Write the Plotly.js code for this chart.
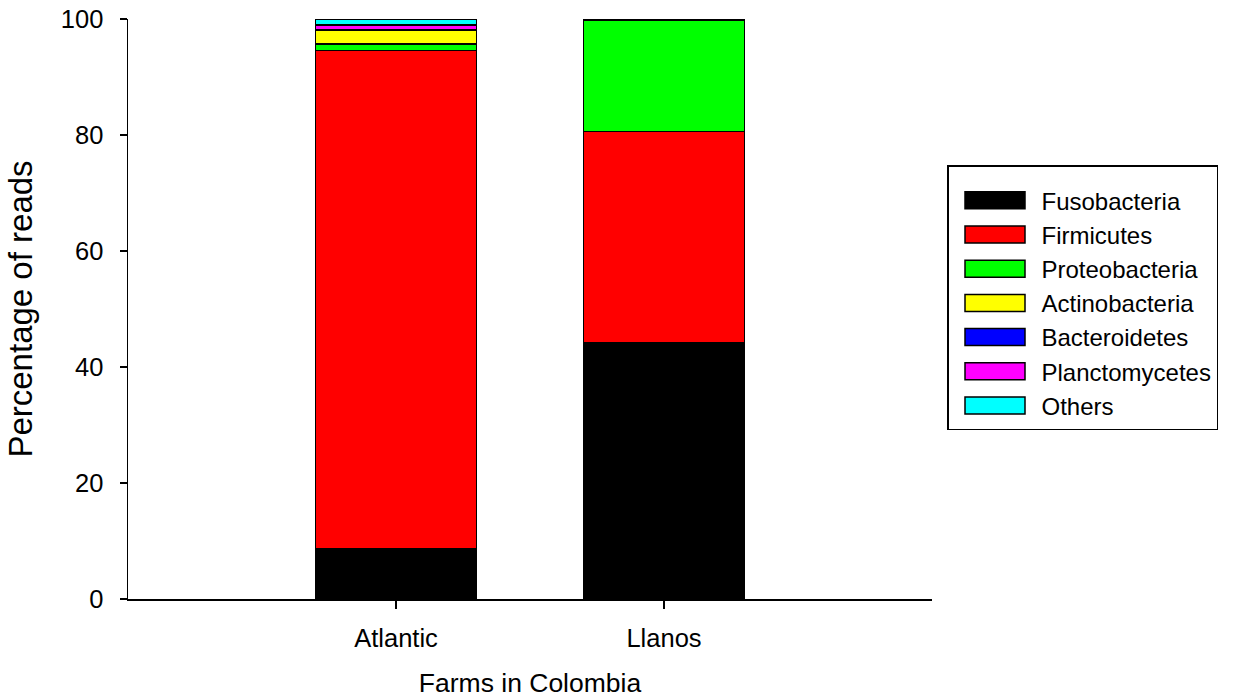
<!DOCTYPE html>
<html>
<head>
<meta charset="utf-8">
<script src="https://cdn.plot.ly/plotly-3.0.1.min.js"></script>
<style>html,body{margin:0;padding:0;background:#fff;}#chart{width:1252px;height:698px;}</style>
</head>
<body>
<div id="chart"></div>
<script>
// Data (percentage of reads)
const farms = ["Atlantic", "Llanos"];
const phyla = ["Fusobacteria", "Firmicutes", "Proteobacteria", "Actinobacteria", "Bacteroidetes", "Planctomycetes", "Others"];
const fusobacteria   = [8.6, 44.2];
const firmicutes     = [86.0, 36.4];
const proteobacteria = [1.1, 19.2];
const actinobacteria = [2.4, 0.05];
const bacteroidetes  = [0.1, 0.05];
const planctomycetes = [0.8, 0.05];
const others         = [1.0, 0.05];
const colors = ["#000000", "#ff0000", "#00ff00", "#ffff00", "#0000ff", "#ff00ff", "#00ffff"];

const seriesValues = [fusobacteria, firmicutes, proteobacteria, actinobacteria, bacteroidetes, planctomycetes, others];
const FONT = "Liberation Sans, Arial, sans-serif";

const traces = phyla.map((name, i) => ({
  type: "bar",
  name: name,
  x: farms,
  y: seriesValues[i],
  width: 0.6,
  legendgroup: name,
  marker: { color: colors[i], line: { color: "#000", width: 1.5 } },
  hoverinfo: "name+y"
}));

const layout = {
  width: 1252, height: 698,
  barmode: "stack",
  paper_bgcolor: "#fff", plot_bgcolor: "#fff",
  margin: { l: 128, r: 320, t: 19, b: 99 },
  font: { family: FONT, size: 25, color: "#000" },
  showlegend: true,
  legend: {
    xref: "container", yref: "container",
    x: 947/1252, y: 1 - 165/698, xanchor: "left", yanchor: "top",
    bordercolor: "#000", borderwidth: 1.5, bgcolor: "#fff",
    traceorder: "grouped", tracegroupgap: 0,
    font: { family: FONT, size: 24, color: "#000" },
    itemwidth: 83,
    title: { text: " ", font: { size: 9 } }
  },
  xaxis: {
    type: "category",
    range: [-1, 2],
    showline: true, linecolor: "#000", linewidth: 1.5,
    ticks: "outside", ticklen: 8, tickwidth: 1.5, tickcolor: "#000",
    showgrid: false, zeroline: false,
    tickfont: { family: FONT, size: 25.5 },
    ticklabelstandoff: 8,
    title: { text: "Farms in Colombia", font: { family: FONT, size: 26.5 }, standoff: 35 }
  },
  yaxis: {
    range: [0, 100],
    tickvals: [0, 20, 40, 60, 80, 100],
    showline: true, linecolor: "#000", linewidth: 1.5,
    ticks: "outside", ticklen: 7, tickwidth: 1.5, tickcolor: "#000",
    showgrid: false, zeroline: false,
    tickfont: { family: FONT, size: 25.5 },
    ticklabelstandoff: 11,
    title: { text: "Percentage of reads", font: { family: FONT, size: 33 }, standoff: 18 }
  }
};

Plotly.newPlot("chart", traces, layout, { staticPlot: true, displayModeBar: false }).then(gd => {
  // widen legend swatches to match the reference's long rectangles
  gd.querySelectorAll(".legend .legendpoints path").forEach(p => {
    p.setAttribute("d", "M-30,8.5H30V-8.5H-30Z");
  });
});
</script>
</body>
</html>
